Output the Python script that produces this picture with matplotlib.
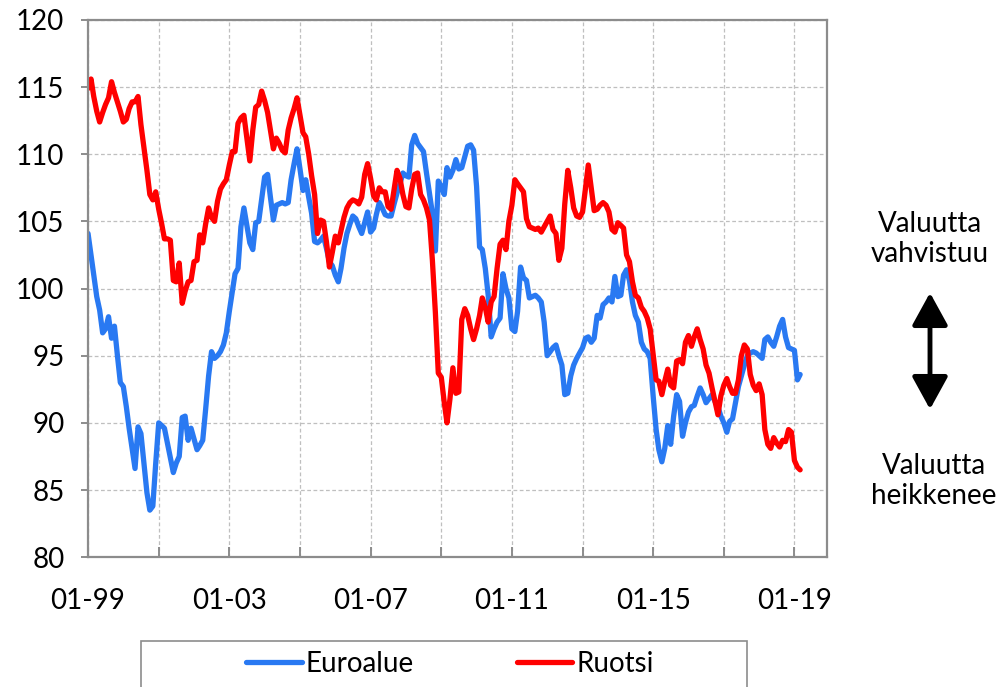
import numpy as np
import pandas as pd
import matplotlib
matplotlib.use('Agg')
import matplotlib.pyplot as plt
from matplotlib.patches import FancyArrowPatch, Rectangle

plt.rcParams['font.family'] = ['Lato', 'DejaVu Sans']

##  data: monthly values, 01-1999 .. 03-2019
months = pd.date_range('1999-01-01', periods=243, freq='MS')

euroalue = [
    104.1, 102.5, 101.0, 99.4, 98.4, 96.7, 97.0, 97.9, 96.3, 97.2, 95.0, 93.0,
    92.7, 91.2, 89.6, 88.1, 86.6, 89.7, 89.2, 87.0, 84.8, 83.5, 83.8, 87.0,
    90.0, 89.8, 89.6, 88.5, 87.4, 86.3, 87.0, 87.5, 90.4, 90.5, 88.7, 89.6,
    88.8, 88.0, 88.3, 88.7, 91.0, 93.5, 95.3, 94.8, 95.0, 95.3, 95.8, 96.7,
    98.3, 99.8, 101.1, 101.5, 104.6, 106.0, 104.7, 103.4, 102.9, 104.9, 105.0, 106.6,
    108.3, 108.5, 106.8, 105.1, 106.2, 106.3, 106.4, 106.3, 106.4, 108.1, 109.3, 110.4,
    108.9, 107.3, 108.1, 106.8, 105.6, 103.5, 103.4, 103.6, 103.9, 103.0, 102.0, 101.7,
    101.0, 100.5, 101.5, 103.0, 104.1, 104.8, 105.4, 105.2, 104.6, 104.1, 104.9, 105.7,
    104.2, 104.5, 105.5, 106.4, 106.0, 105.5, 105.4, 105.4, 106.3, 107.1, 107.8, 108.6,
    108.4, 108.3, 110.7, 111.4, 110.8, 110.5, 110.2, 108.6, 107.1, 105.6, 102.8, 108.0,
    107.6, 107.0, 109.0, 108.3, 108.8, 109.6, 108.9, 109.0, 109.8, 110.6, 110.7, 110.3,
    107.6, 103.1, 102.9, 101.5, 99.5, 96.4, 97.0, 97.5, 97.8, 101.1, 100.0, 99.3,
    97.0, 96.8, 98.3, 101.6, 100.8, 100.6, 99.3, 99.4, 99.5, 99.3, 99.0, 97.5,
    95.0, 95.3, 95.6, 95.8, 95.0, 94.3, 92.1, 92.2, 93.5, 94.3, 94.8, 95.2,
    95.6, 96.3, 96.4, 96.0, 96.3, 98.0, 97.8, 98.8, 99.0, 99.3, 99.0, 100.9,
    99.4, 99.5, 101.0, 101.4, 100.6, 99.0, 98.0, 97.5, 96.0, 95.5, 95.3, 94.8,
    92.0, 89.5, 88.0, 87.1, 88.1, 89.8, 88.4, 90.5, 92.1, 91.6, 89.0, 90.0,
    90.8, 91.2, 91.3, 92.0, 92.6, 92.1, 91.5, 91.8, 92.1, 91.6, 91.2, 90.5,
    90.0, 89.3, 90.1, 90.3, 91.5, 92.7, 93.5, 94.3, 95.0, 95.2, 95.3, 95.2,
    95.0, 94.8, 96.2, 96.4, 96.0, 95.7, 96.4, 97.2, 97.7, 96.4, 95.6, 95.5,
    95.4, 93.2, 93.6,
]

ruotsi = [
    114.9, 115.6, 114.3, 113.2, 112.4, 113.1, 113.7, 114.2, 115.4, 114.6, 113.9, 113.2,
    112.4, 112.6, 113.4, 113.9, 113.9, 114.3, 112.2, 110.5, 108.8, 107.0, 106.6, 107.2,
    105.9, 104.8, 103.7, 103.7, 103.6, 100.6, 100.5, 101.9, 98.9, 99.8, 100.5, 100.6,
    102.0, 102.1, 104.0, 103.4, 104.8, 106.0, 105.3, 105.0, 106.5, 107.4, 107.8, 108.1,
    109.2, 110.2, 110.2, 112.3, 112.7, 112.9, 111.2, 109.5, 111.8, 113.5, 113.7, 114.7,
    114.0, 113.1, 111.8, 110.4, 111.2, 110.8, 110.3, 110.1, 111.8, 112.7, 113.4, 114.2,
    112.9, 111.6, 111.3, 110.0, 108.4, 107.0, 104.1, 105.1, 105.0, 103.5, 101.6, 102.7,
    103.9, 103.4, 104.3, 105.3, 106.0, 106.4, 106.6, 106.5, 106.3, 106.8, 108.5, 109.3,
    108.2, 106.9, 106.6, 107.5, 107.2, 107.2, 106.1, 105.9, 107.4, 108.8, 108.2, 107.0,
    106.1, 106.0, 107.4, 108.5, 108.6, 107.0, 106.6, 106.0, 105.1, 102.1, 98.2, 93.7,
    93.4, 91.5, 90.0, 91.8, 94.1, 92.2, 92.3, 97.7, 98.5, 98.0, 97.0, 96.2,
    97.0, 98.0, 99.3, 98.6, 97.5, 99.0, 99.4, 101.5, 103.3, 103.6, 102.9, 105.0,
    106.2, 108.1, 107.8, 107.5, 107.2, 105.2, 104.6, 104.5, 104.4, 104.5, 104.2, 104.6,
    105.0, 105.4, 104.4, 104.1, 102.1, 103.0, 106.3, 108.8, 107.5, 106.0, 105.4, 105.3,
    105.7, 107.5, 109.2, 107.5, 105.8, 105.9, 106.2, 106.4, 106.2, 105.7, 104.4, 104.2,
    104.9, 104.7, 104.5, 102.5, 102.0, 100.5, 99.5, 99.3, 98.6, 98.3, 97.8, 97.0,
    95.1, 93.2, 93.1, 92.1, 93.1, 94.0, 92.8, 92.6, 94.6, 94.7, 94.4, 96.0,
    96.5, 95.7, 96.4, 97.0, 96.2, 95.5, 94.3, 93.7, 92.6, 91.6, 90.6, 92.0,
    92.8, 93.3, 92.7, 92.2, 92.2, 93.2, 95.0, 95.8, 95.5, 93.6, 92.8, 92.4,
    92.9, 92.1, 89.5, 88.4, 88.1, 88.9, 88.5, 88.2, 88.7, 88.6, 89.5, 89.3,
    87.2, 86.7, 86.5,
]

tick_dates = pd.date_range('1999-01-01', '2019-01-01', freq='24MS')
tick_labels = ['01-99', '', '01-03', '', '01-07', '', '01-11', '', '01-15', '', '01-19']

##  plot
fig = plt.figure(figsize=(10.05, 6.87), dpi=100)
ax = fig.add_axes([0.0876, 0.189, 0.7354, 0.782])

ax.plot(months, euroalue, '-', color='#2979f2', linewidth=3.8, label='Euroalue',
        solid_capstyle='round', solid_joinstyle='round')
ax.plot(months, ruotsi, '-', color='#ff0000', linewidth=3.8, label='Ruotsi',
        solid_capstyle='round', solid_joinstyle='round')

ax.set_ylim(80, 120)
ax.set_yticks(np.arange(80, 121, 5))
ax.set_xlim(pd.Timestamp('1999-01-01'), pd.Timestamp('2019-12-05'))
ax.set_xticks(tick_dates)
ax.set_xticklabels(tick_labels)

ax.grid(True, color='#bfbfbf', linestyle=(0, (3, 2)), linewidth=0.9)
for s in ax.spines.values():
    s.set_color('#8c8c8c')
    s.set_linewidth(1.6)
ax.tick_params(axis='y', direction='out', length=5, width=1.4, color='#8c8c8c',
               labelsize=20, pad=12)
ax.tick_params(axis='x', direction='in', length=7, width=1.4, color='#8c8c8c',
               labelsize=20, pad=22)

# legend (box partly cut by figure edge)
fig.add_artist(Rectangle((141 / 1005, -0.1), 606 / 1005, 0.1 + (687 - 641) / 687,
                         transform=fig.transFigure, fill=False,
                         edgecolor='#8c8c8c', linewidth=1.2))
fig.legend(loc='center', bbox_to_anchor=(450 / 1005, 1 - 664 / 687), ncol=2,
           frameon=False, fontsize=20, handlelength=2.0, handletextpad=0.15,
           columnspacing=3.7)

# side text and arrow
fig.text(930 / 1005, 1 - 239 / 687, 'Valuutta\nvahvistuu', ha='center', va='center',
         fontsize=20, linespacing=1.2)
fig.text(934 / 1005, 1 - 481 / 687, 'Valuutta\nheikkenee', ha='center', va='center',
         fontsize=20, linespacing=1.2)
fig.add_artist(FancyArrowPatch((930 / 1005, 1 - 290 / 687), (930 / 1005, 1 - 412 / 687),
                               transform=fig.transFigure, arrowstyle='<|-|>,head_length=1.0,head_width=0.55',
                               mutation_scale=20, color='black', linewidth=3.5))

plt.savefig('out.png', dpi=100)
